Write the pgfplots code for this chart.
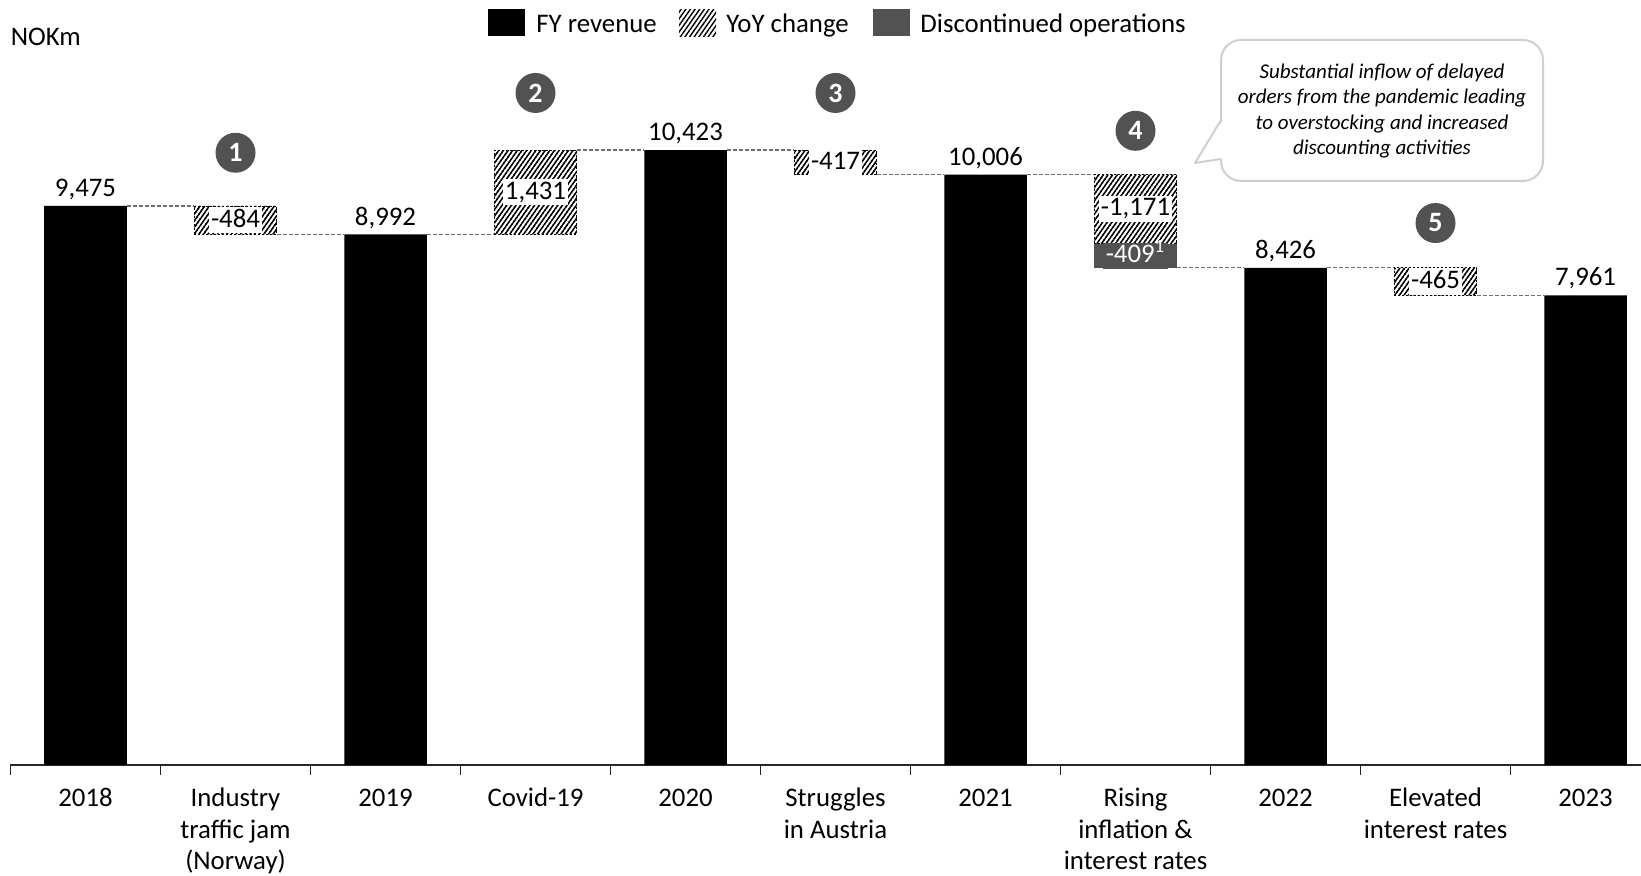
\documentclass[border=0pt]{standalone}
\usepackage{fontspec}
\setmainfont{Carlito}
\usepackage{pgfplots}
\pgfplotsset{compat=1.18}
\usepackage{pgfplotstable}
\usetikzlibrary{patterns.meta}
\definecolor{dgrey}{HTML}{525252}
\definecolor{cgrey}{HTML}{CFCFCF}
\definecolor{lgrey}{HTML}{707070}
\tikzset{hatch/.style={pattern={Lines[angle=55,distance=1.9pt,line width=0.7pt]}}}

\pgfplotstableread{
x rev base disc yoy
0 9475 0 0 0
1 0 8992 0 483
2 8992 0 0 0
3 0 8992 0 1431
4 10423 0 0 0
5 0 10006 0 417
6 10006 0 0 0
7 0 8426 409 1171
8 8426 0 0 0
9 0 7961 0 465
10 7961 0 0 0
}\wf

\begin{document}
\begin{tikzpicture}[font=\fontsize{13.4}{16.25}\selectfont]
\useasboundingbox (0,0) rectangle (820.5pt,438pt);
\begin{axis}[
  at={(5.25pt,55.5pt)}, anchor=south west,
  scale only axis, width=815.25pt, height=382.5pt,
  xmin=-0.5, xmax=10.37, ymin=0, ymax=12966,
  clip=false,
  axis x line*=bottom, axis y line=none,
  ytick=\empty,
  ybar stacked, bar width=0.55,
  xtick={0,...,10},
  xticklabels={{2018},{Industry\\traffic jam\\(Norway)},{2019},{Covid-19},{2020},{Struggles\\in Austria},{2021},{Rising\\inflation \&\\interest rates},{2022},{Elevated\\interest rates},{2023}},
  typeset ticklabels with strut,
  xticklabel style={align=center, font=\fontsize{13.4}{15.6}\selectfont, yshift=-6.5pt},
  major tick length=0pt,
  minor xtick={-0.5,0.5,...,9.5},
  minor tick length=5pt,
  tick align=outside,
  x axis line style={line width=0.8pt, black!85},
  every minor tick/.style={line width=0.8pt, black!85},
]
\addplot[fill=black, draw=none] table[x=x,y=rev]{\wf};
\addplot[fill=none, draw=none] table[x=x,y=base]{\wf};
\addplot[fill=dgrey, draw=none] table[x=x,y=disc]{\wf};
\addplot[hatch, draw=none, postaction={draw=black, line width=0.4pt, dash pattern=on 1pt off 1pt}] table[x=x,y=yoy]{\wf};

% connectors
\pgfplotsset{conn/.style={sharp plot, stack plots=false, no marks, lgrey, line width=0.55pt, dash pattern=on 2pt off 1pt}}
\addplot[conn] coordinates {(0.275,9475) (0.725,9475)};
\addplot[conn] coordinates {(1.275,8992) (1.725,8992)};
\addplot[conn] coordinates {(2.275,8992) (2.725,8992)};
\addplot[conn] coordinates {(3.275,10423) (3.725,10423)};
\addplot[conn] coordinates {(4.275,10423) (4.725,10423)};
\addplot[conn] coordinates {(5.275,10006) (5.725,10006)};
\addplot[conn] coordinates {(6.275,10006) (6.725,10006)};
\addplot[conn] coordinates {(7.275,8426) (7.725,8426)};
\addplot[conn] coordinates {(8.275,8426) (8.725,8426)};
\addplot[conn] coordinates {(9.275,7961) (9.725,7961)};

% anchor points for labels
\coordinate (t0) at (axis cs:0,9475);
\coordinate (t2) at (axis cs:2,8992);
\coordinate (t4) at (axis cs:4,10423);
\coordinate (t6) at (axis cs:6,10006);
\coordinate (t8) at (axis cs:8,8426);
\coordinate (t10) at (axis cs:10,7961);
\coordinate (c1) at (axis cs:1,9233.5);
\coordinate (c3) at (axis cs:3,9707.5);
\coordinate (c5) at (axis cs:5,10214.5);
\coordinate (c7) at (axis cs:7,9420.5);
\coordinate (d7) at (axis cs:7,8630.5);
\coordinate (c9) at (axis cs:9,8193.5);
\coordinate (n1) at (axis cs:1,10377);
\coordinate (n2) at (axis cs:3,11390);
\coordinate (n3) at (axis cs:5,11390);
\coordinate (n4) at (axis cs:7,10749);
\coordinate (n5) at (axis cs:9,9186);
\end{axis}

% totals
\tikzset{tot/.style={anchor=base, yshift=4.7pt}}
\node[tot] at (t0) {9,475};
\node[tot] at (t2) {8,992};
\node[tot] at (t4) {10,423};
\node[tot] at (t6) {10,006};
\node[tot] at (t8) {8,426};
\node[tot] at (t10) {7,961};
% changes
\tikzset{chg/.style={fill=white, inner xsep=1pt, inner ysep=1pt, text height=9pt, text depth=2.2pt}}
\node[chg] at (c1) {-484};
\node[chg] at (c3) {1,431};
\node[chg] at (c5) {-417};
\node[chg] at (c7) {-1,171};
\node[chg] at (c9) {-465};
\node[fill=dgrey, text=white, inner xsep=1.5pt, inner ysep=1pt, text height=9pt, text depth=2.2pt] at (d7) {-409\textsuperscript{1}};
% circled numbers
\tikzset{num/.style={circle, fill=dgrey, text=white, minimum size=20pt, inner sep=0pt, font=\bfseries\fontsize{14}{14}\selectfont}}
\node[num] at (n1) {1};
\node[num] at (n2) {2};
\node[num] at (n3) {3};
\node[num] at (n4) {4};
\node[num] at (n5) {5};

\begin{scope}[x=0.5pt,y=-0.5pt,shift={(0pt,438pt)}]
\node[anchor=base west, inner sep=0pt] at (10.5,46) {NOKm};
% legend
\fill[black] (488,9.5) rectangle (525,36.5);
\node[anchor=base west, inner sep=0pt] at (536,32.5) {FY revenue};
\fill[hatch] (679,9.5) rectangle (716,36.5);
\node[anchor=base west, inner sep=0pt] at (726,32.5) {YoY change};
\fill[dgrey] (873,9.5) rectangle (910,36.5);
\node[anchor=base west, inner sep=0pt] at (920,32.5) {Discontinued operations};
% callout
\draw[cgrey, line width=1pt, fill=white, rounded corners=10pt] (1221,40) rectangle (1543,181);
\fill[white] (1223,120) -- (1195,163) -- (1223,159) -- cycle;
\draw[cgrey, line width=1pt, line join=round] (1221,120) -- (1195,163) -- (1221,159);
\node[align=center, font=\itshape\fontsize{10.5}{12.6}\selectfont] at (1382,111) {Substantial inflow of delayed\\orders from the pandemic leading\\to overstocking and increased\\discounting activities};
\end{scope}
\end{tikzpicture}
\end{document}
